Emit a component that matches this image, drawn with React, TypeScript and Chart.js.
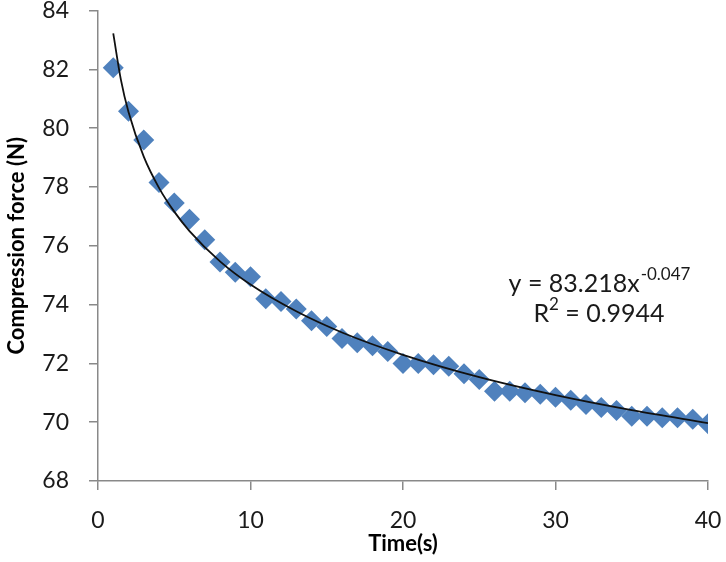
import React, { useEffect, useRef } from "react";
import { Chart, registerables } from "chart.js";

Chart.register(...registerables);

const timeValues: number[] = Array.from({ length: 40 }, (_, i) => i + 1);
const forceValues: number[] = [
  82.05, 80.57, 79.6, 78.15, 77.45, 76.9, 76.2, 75.45, 75.1, 74.95,
  74.2, 74.1, 73.85, 73.45, 73.25, 72.85, 72.7, 72.6, 72.4, 72.0,
  72.0, 71.95, 71.9, 71.65, 71.45, 71.05, 71.05, 71.0, 70.95, 70.85,
  70.75, 70.6, 70.5, 70.4, 70.2, 70.2, 70.15, 70.15, 70.1, 69.95,
];
const trendX: number[] = [1, 1.5, 2, 3, 4, 5, 6, 8, 10, 13, 16, 20, 25, 30, 35, 40];
const trendY: number[] = [
  83.22, 81.65, 80.55, 79.03, 77.97, 77.16, 76.5, 75.47, 74.68, 73.77,
  73.05, 72.29, 71.53, 70.92, 70.41, 69.97,
];
const xTicks: number[] = [0, 10, 20, 30, 40];
const yTicks: number[] = [68, 70, 72, 74, 76, 78, 80, 82, 84];
const eqMain = "y = 83.218x";
const eqExp = "-0.047";
const r2Label = "R";
const r2Sup = "2";
const r2Value = " = 0.9944";

const FONT = "Lato, 'Open Sans', sans-serif";
const AXIS_COLOR = "#898989";

const equationPlugin = {
  id: "equationText",
  afterDraw(chart: any) {
    const ctx = chart.ctx as CanvasRenderingContext2D;
    ctx.save();
    ctx.fillStyle = "#1a1a1a";
    ctx.textBaseline = "alphabetic";
    ctx.textAlign = "left";
    const cx = 599;
    const big = `25px ${FONT}`;
    const small = `17px ${FONT}`;
    // line 1
    ctx.font = big;
    const w1 = ctx.measureText(eqMain).width;
    ctx.font = small;
    const w2 = ctx.measureText(eqExp).width;
    let x = cx - (w1 + w2) / 2;
    ctx.font = big;
    ctx.fillText(eqMain, x, 292);
    ctx.font = small;
    ctx.fillText(eqExp, x + w1 + 1, 280);
    // line 2
    ctx.font = big;
    const a = ctx.measureText(r2Label).width;
    const c = ctx.measureText(r2Value).width;
    ctx.font = small;
    const b = ctx.measureText(r2Sup).width;
    x = cx - (a + b + c) / 2;
    ctx.font = big;
    ctx.fillText(r2Label, x, 322);
    ctx.font = small;
    ctx.fillText(r2Sup, x + a, 310);
    ctx.font = big;
    ctx.fillText(r2Value, x + a + b, 322);
    ctx.restore();
  },
};

export default function App() {
  const ref = useRef<HTMLCanvasElement | null>(null);
  useEffect(() => {
    if (!ref.current) return;
    const chart = new Chart(ref.current, {
      type: "scatter",
      data: {
        datasets: [
          {
            type: "line",
            label: "trend",
            data: trendX.map((x, i) => ({ x, y: trendY[i] })),
            borderColor: "#111111",
            borderWidth: 1.8,
            pointRadius: 0,
            fill: false,
            cubicInterpolationMode: "monotone",
          } as any,
          {
            label: "force",
            data: timeValues.map((x, i) => ({ x, y: forceValues[i] })),
            pointStyle: "rectRot",
            pointRadius: 10.5,
            pointHoverRadius: 10.5,
            backgroundColor: "#4F81BD",
            borderColor: "#4F81BD",
            borderWidth: 0,
          },
        ],
      },
      options: {
        animation: false,
        responsive: false,
        devicePixelRatio: 1,
        layout: { padding: { left: 0, right: 18, top: 10, bottom: 0 } },
        plugins: { legend: { display: false }, tooltip: { enabled: false } },
        scales: {
          x: {
            type: "linear",
            min: 0,
            max: 40,
            afterBuildTicks: (s: any) => {
              s.ticks = xTicks.map((v) => ({ value: v }));
            },
            afterFit: (s: any) => {
              s.height = 81;
              s.paddingLeft = 0;
              s.paddingRight = 0;
            },
            ticks: {
              font: { family: FONT, size: 23 },
              color: "#1a1a1a",
              padding: 17,
              maxRotation: 0,
            },
            grid: {
              drawOnChartArea: false,
              drawTicks: true,
              tickLength: 9,
              color: AXIS_COLOR,
              lineWidth: 1.5,
            },
            border: { display: true, color: AXIS_COLOR, width: 1.5 },
            title: {
              display: true,
              text: "Time(s)",
              font: { family: FONT, size: 22, weight: "bold" },
              color: "#000",
              padding: { top: 0, bottom: 5 },
            },
          },
          y: {
            type: "linear",
            min: 68,
            max: 84,
            afterBuildTicks: (s: any) => {
              s.ticks = yTicks.map((v) => ({ value: v }));
            },
            afterFit: (s: any) => {
              s.width = 98;
              s.paddingTop = 0;
              s.paddingBottom = 0;
            },
            ticks: {
              font: { family: FONT, size: 23 },
              color: "#1a1a1a",
              padding: 20,
            },
            grid: {
              drawOnChartArea: false,
              drawTicks: true,
              tickLength: 9,
              color: AXIS_COLOR,
              lineWidth: 1.5,
            },
            border: { display: true, color: AXIS_COLOR, width: 1.5 },
            title: {
              display: true,
              text: "Compression force (N)",
              font: { family: FONT, size: 22, weight: "bold" },
              color: "#000",
              padding: { top: 4, bottom: 0 },
            },
          },
        },
      },
      plugins: [equationPlugin],
    });
    return () => chart.destroy();
  }, []);
  return (
    <div style={{ position: "absolute", left: 0, top: 0, width: 726, height: 562, background: "#fff" }}>
      <canvas ref={ref} width={726} height={562} style={{ width: 726, height: 562 }} />
    </div>
  );
}
